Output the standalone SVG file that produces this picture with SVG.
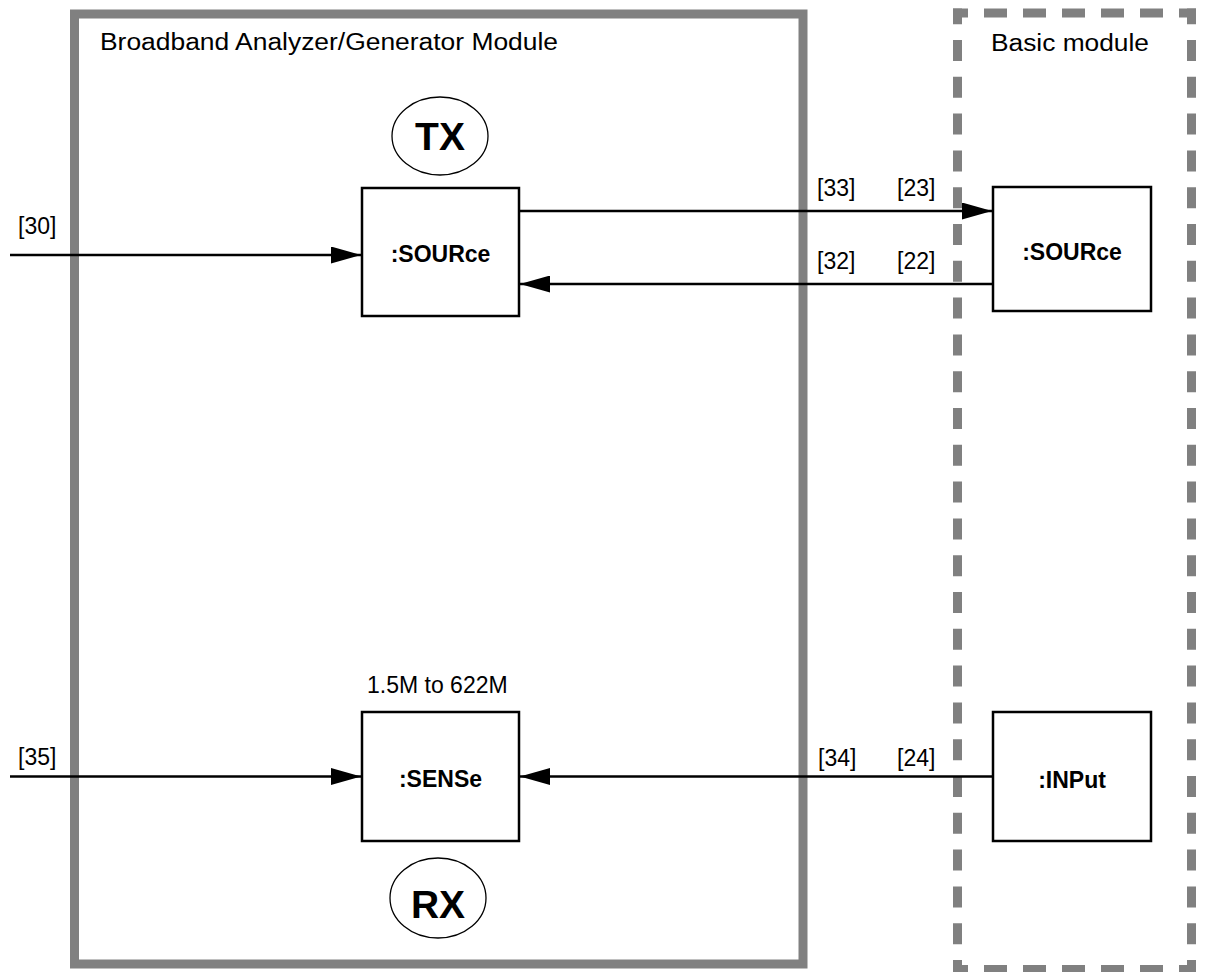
<svg xmlns="http://www.w3.org/2000/svg" width="1206" height="972" viewBox="0 0 1206 972">
<style>
.frame{fill:none;stroke:#808080;stroke-width:9}
.dash{fill:none;stroke:#808080;stroke-width:9}
.dh{stroke-dasharray:23 16}
.dv{stroke-dasharray:21 15.8}
.box{fill:#fff;stroke:#000;stroke-width:2.5}
.oval{fill:#fff;stroke:#000;stroke-width:1.3}
.conn{fill:none;stroke:#000;stroke-width:2.3}
.lbl{font-family:"Liberation Sans",Arial,Helvetica,sans-serif;font-size:23px;fill:#000}
.nl{font-family:"Liberation Sans",Arial,Helvetica,sans-serif;font-size:23px;font-weight:bold;fill:#000;text-anchor:middle}
.big{font-family:"Liberation Sans",Arial,Helvetica,sans-serif;font-size:39px;font-weight:bold;fill:#000;text-anchor:middle}
</style>
<defs>
<marker id="ah" markerUnits="userSpaceOnUse" viewBox="0 0 30 17" refX="30" refY="8.5" markerWidth="30" markerHeight="17" orient="auto">
<path d="M0,0 L30,8.5 L0,17 Z" fill="#000"/>
</marker>
</defs>
<rect width="1206" height="972" fill="#fff"/>
<g id="bagm">
<rect class="frame" x="74.5" y="14" width="728.5" height="950"/>
<text class="lbl" x="100" y="50" textLength="458" lengthAdjust="spacingAndGlyphs">Broadband Analyzer/Generator Module</text>
</g>
<g id="basic">
<line class="dash dh" x1="953" y1="13" x2="1196" y2="13" stroke-dashoffset="8"/>
<line class="dash dh" x1="953" y1="969.5" x2="1196" y2="969.5" stroke-dashoffset="8"/>
<line class="dash dv" x1="957.5" y1="8.5" x2="957.5" y2="974" stroke-dashoffset="5.3"/>
<line class="dash dv" x1="1191.5" y1="8.5" x2="1191.5" y2="974" stroke-dashoffset="5.3"/>
<text class="lbl" x="991" y="51" font-size="24" textLength="158" lengthAdjust="spacingAndGlyphs">Basic module</text>
</g>
<g id="tx">
<ellipse class="oval" cx="440" cy="136" rx="48" ry="39"/>
<text class="big" x="440" y="150">TX</text>
</g>
<g id="rx">
<ellipse class="oval" cx="438" cy="898" rx="48" ry="40"/>
<text class="big" x="438" y="918">RX</text>
</g>
<g id="src1">
<rect class="box" x="362" y="188" width="157" height="128"/>
<text class="nl" x="440.5" y="262">:SOURce</text>
</g>
<g id="sense">
<rect class="box" x="362" y="712" width="157" height="129"/>
<text class="nl" x="440.5" y="787">:SENSe</text>
<text class="lbl" x="367" y="693">1.5M to 622M</text>
</g>
<g id="src2">
<rect class="box" x="993" y="187" width="158" height="124"/>
<text class="nl" x="1072" y="260">:SOURce</text>
</g>
<g id="input">
<rect class="box" x="993" y="712" width="158" height="129"/>
<text class="nl" x="1072" y="788">:INPut</text>
</g>
<g id="connectors">
<line class="conn" x1="10" y1="255" x2="361" y2="255" marker-end="url(#ah)"/>
<line class="conn" x1="519" y1="211" x2="992" y2="211" marker-end="url(#ah)"/>
<line class="conn" x1="993" y1="284" x2="520" y2="284" marker-end="url(#ah)"/>
<line class="conn" x1="10" y1="776.5" x2="361" y2="776.5" marker-end="url(#ah)"/>
<line class="conn" x1="993" y1="776.5" x2="520" y2="776.5" marker-end="url(#ah)"/>
<text class="lbl" x="18" y="234">[30]</text>
<text class="lbl" x="817" y="196">[33]</text>
<text class="lbl" x="897" y="196">[23]</text>
<text class="lbl" x="817" y="269">[32]</text>
<text class="lbl" x="897" y="269">[22]</text>
<text class="lbl" x="18" y="765">[35]</text>
<text class="lbl" x="818" y="766">[34]</text>
<text class="lbl" x="897" y="766">[24]</text>
</g>
</svg>
